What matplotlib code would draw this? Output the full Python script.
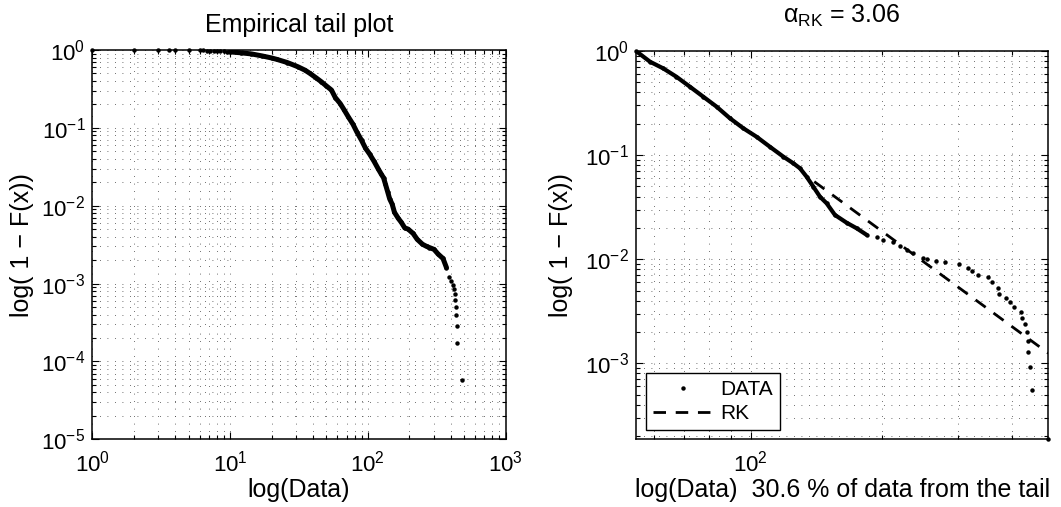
import matplotlib.pyplot as plt
from matplotlib.lines import Line2D
from matplotlib.ticker import LogLocator, NullFormatter

plt.rcParams['font.family'] = ['Liberation Sans', 'DejaVu Sans']
plt.rcParams['mathtext.fontset'] = 'custom'
plt.rcParams['mathtext.rm'] = 'Liberation Sans'
plt.rcParams['mathtext.it'] = 'Liberation Sans'
plt.rcParams['mathtext.bf'] = 'Liberation Sans:bold'

# --- left panel: empirical tail of the whole sample ---
head_x = [1, 2, 3, 3.6, 4, 5, 6, 6.4, 6.8, 7.2, 7.6, 8, 8.5, 9, 9.5]
head_y = [1.0, 0.9995, 0.999, 0.998, 0.997, 0.995, 0.99, 0.987, 0.984,
          0.98, 0.977, 0.973, 0.968, 0.962, 0.955]
body_x = [10, 12, 14.3, 17, 20, 22, 26, 31, 35, 38, 42, 46, 50, 54.4, 58,
          63, 67, 72, 78, 83, 90, 96, 103, 111, 119, 125, 130, 134, 139,
          144, 150, 156, 166, 175, 185, 196, 213, 228, 249, 267, 280, 302,
          323, 351, 372]
body_y = [0.945, 0.92, 0.89, 0.84, 0.79, 0.755, 0.69, 0.61, 0.55, 0.50,
          0.44, 0.39, 0.345, 0.306, 0.245, 0.205, 0.172, 0.139, 0.111,
          0.089, 0.069, 0.055, 0.046, 0.037, 0.0296, 0.0255, 0.0228, 0.019,
          0.0152, 0.0122, 0.0105, 0.0082, 0.0069, 0.0061, 0.0052, 0.005,
          0.0044, 0.0037, 0.0032, 0.0030, 0.0029, 0.00275, 0.0024, 0.0021,
          0.0016]
tail_x = [388, 399, 417, 422, 427, 431, 434, 436, 441, 443, 484]
tail_y = [1.23e-3, 1.09e-3, 9.6e-4, 8.5e-4, 7.4e-4, 6.2e-4, 5.07e-4,
          3.96e-4, 2.87e-4, 1.72e-4, 5.7e-5]

# --- right panel: upper 30.6 % of the data + RK fit ---
top_x = [54.4, 58.6, 62.8, 67.4, 72.4, 77.7, 83.4, 89.5, 96.1, 103.1,
         110.7, 118.8, 125.3, 129.8, 134.4, 139.3, 144.3, 149.5, 156.2,
         166.2, 175.3, 184.9]
top_y = [1.0, 0.789, 0.682, 0.566, 0.454, 0.364, 0.292, 0.226, 0.181,
         0.150, 0.12, 0.0966, 0.0834, 0.0746, 0.062, 0.0497, 0.0398,
         0.0344, 0.0266, 0.0224, 0.0198, 0.0171]
pts_x = [195.5, 201.8, 212.8, 220.5, 228.3, 236.6, 248.5, 255.1, 266.7,
         279.8, 301.9, 316.5, 322.3, 332.6, 350.8, 359.4, 371.5, 373.4,
         386.6, 395.2, 403.6, 418.5, 420.7, 426.8, 432.3, 434.6, 435.7,
         439.6, 443.6, 484]
pts_y = [0.01645, 0.0153, 0.0145, 0.0134, 0.01226, 0.0114, 0.01035,
         0.00998, 0.00968, 0.0094, 0.009, 0.00817, 0.00775, 0.0071, 0.0067,
         0.00608, 0.00532, 0.0046, 0.0042, 0.00385, 0.0035, 0.00309,
         0.00274, 0.00238, 0.002, 0.00165, 0.00128, 9.2e-4, 5.5e-4, 1.86e-4]
rk_x = [140, 484]
rk_y = [0.0556, 0.00125]
alpha_rk = 3.06
tail_share = 30.6

fig = plt.figure(figsize=(10.61, 5.07), dpi=100)
ax1 = fig.add_axes([0.0870, 0.1335, 0.3896, 0.7679])
ax2 = fig.add_axes([0.5994, 0.1335, 0.3886, 0.7659])

grid_kw = dict(which='both', color='0.25', lw=0.6, linestyle=(0, (1, 8)))

# left
ax1.plot(body_x, body_y, '-', color='k', lw=3.6, solid_capstyle='round')
ax1.plot(head_x + body_x + tail_x, head_y + body_y + tail_y, 'o', color='k',
         ms=3.2, mec='none', clip_on=False)
ax1.set_xscale('log')
ax1.set_yscale('log')
ax1.set_xlim(1, 1000)
ax1.set_ylim(1e-5, 1)
ax1.set_title('Empirical tail plot', fontsize=18, pad=13)
ax1.set_xlabel('log(Data)', fontsize=18, labelpad=1)
ax1.set_ylabel('log( 1 \u2212 F(x))', fontsize=18, labelpad=5)

# right
ax2.plot(top_x, top_y, '-', color='k', lw=3.0, solid_capstyle='round')
ax2.plot(top_x + pts_x, top_y + pts_y, 'o', color='k', ms=3.2, mec='none',
         clip_on=False)
ax2.plot(rk_x, rk_y, color='k', lw=2.0, dashes=(4.5, 3.5))
ax2.set_xscale('log')
ax2.set_yscale('log')
ax2.set_xlim(54.4, 484)
ax2.set_ylim(1.86e-4, 1.0)
ax2.set_title(r'$\alpha_{\mathrm{RK}}$ = %.2f' % alpha_rk, fontsize=18, pad=20)
ax2.set_xlabel('log(Data)  %.1f %% of data from the tail' % tail_share,
               fontsize=18, labelpad=1)
ax2.set_ylabel('log( 1 \u2212 F(x))', fontsize=18, labelpad=9)

for ax in (ax1, ax2):
    ax.grid(True, **grid_kw)
    ax.set_axisbelow(True)
    ax.tick_params(which='both', direction='in', top=True, right=True,
                   labelsize=16, width=0.8, color='k')
    ax.tick_params(which='major', length=5)
    ax.tick_params(which='minor', length=3)
    ax.tick_params(axis='x', which='both', pad=8)
    ax.tick_params(axis='y', which='both', pad=5)
    ax.xaxis.set_minor_formatter(NullFormatter())
    ax.yaxis.set_minor_formatter(NullFormatter())
    for s in ax.spines.values():
        s.set_linewidth(1.1)
        s.set_color('k')

ax1.xaxis.set_major_locator(LogLocator(base=10, numticks=10))
ax1.yaxis.set_major_locator(LogLocator(base=10, numticks=10))

handles = [Line2D([], [], ls='none', marker='o', ms=3.2, color='k', mec='none'),
           Line2D([], [], color='k', lw=2.0, dashes=(4.5, 3.5))]
leg = ax2.legend(handles, ['DATA', 'RK'], loc='lower left',
                 bbox_to_anchor=(0.024, 0.023), borderaxespad=0, fontsize=15,
                 fancybox=False, edgecolor='k', framealpha=1, numpoints=1,
                 handlelength=2.9, handletextpad=0.3, labelspacing=0.25,
                 borderpad=0.35)
leg.get_frame().set_linewidth(1.0)

fig.savefig('out.png', dpi=100)
